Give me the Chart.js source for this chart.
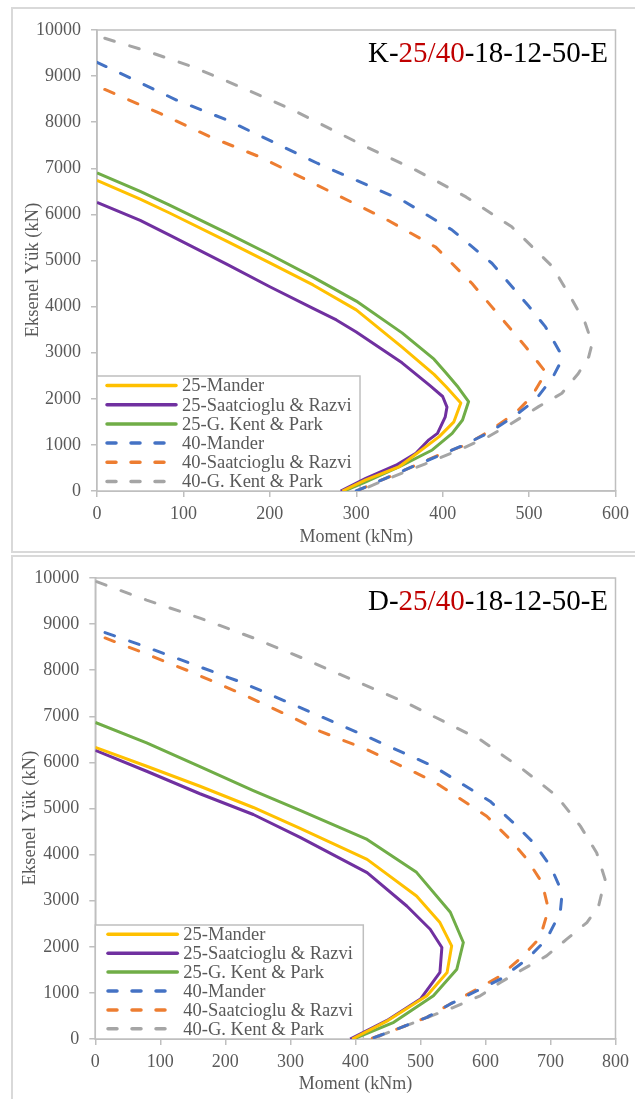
<!DOCTYPE html>
<html><head><meta charset="utf-8">
<script src="https://cdn.jsdelivr.net/npm/chart.js@4.4.0/dist/chart.umd.min.js"></script>
<style>
html,body{margin:0;padding:0;background:#fff;width:635px;height:1099px;overflow:hidden;position:relative}
.frame{position:absolute;border:2px solid #d9d9d9;box-sizing:border-box}
canvas{position:absolute}
</style></head><body>
<div class="frame" style="left:11px;top:7px;width:640px;height:546px"></div>
<div class="frame" style="left:11px;top:555px;width:640px;height:600px"></div>
<canvas id="c1" width="623" height="543" style="left:12px;top:8px;width:623px;height:543px"></canvas>
<canvas id="c2" width="623" height="543" style="left:12px;top:556px;width:623px;height:543px"></canvas>
<script>
// ---- series / labels ----
const seriesNames = ['25-Mander','25-Saatcioglu & Razvi','25-G. Kent & Park','40-Mander','40-Saatcioglu & Razvi','40-G. Kent & Park'];
const seriesColors = ['#FFC000','#7030A0','#70AD47','#4472C4','#ED7D31','#A5A5A5'];
const seriesDashed = [false,false,false,true,true,true];
const loadTicks = [0,1000,2000,3000,4000,5000,6000,7000,8000,9000,10000];
const momentTicksK = [0,100,200,300,400,500,600];
const momentTicksD = [0,100,200,300,400,500,600,700,800];
const titlePartsK = ['K-','25/40','-18-12-50-E'];
const titlePartsD = ['D-','25/40','-18-12-50-E'];
const xTitle = 'Moment (kNm)';
const yTitle = 'Eksenel Yük (kN)';

// ---- K chart data (Moment kNm, Load kN) ----
const K_M_25Mander = [0,50,84,150,200,250,300,353,390,404,421,413,396,350,311,284];
const K_P_25Mander = [6740,6330,6030,5420,4950,4470,3930,3120,2530,2260,1910,1500,1180,530,240,0];
const K_M_25Saat = [0,50,84,150,200,250,277,300,353,385,400,405,403,394,384,369,346,311,282];
const K_P_25Saat = [6260,5870,5550,4920,4430,3960,3710,3450,2780,2290,2050,1820,1610,1250,1110,820,560,275,0];
const K_M_25Kent = [0,50,84,150,200,250,300,353,390,404,418,430,423,411,388,350,311,286];
const K_P_25Kent = [6900,6500,6200,5600,5130,4640,4120,3430,2860,2560,2250,1940,1540,1250,890,530,200,0];
const K_M_40Mander = [0,34,92,150,207,255,300,353,411,457,500,519,536,538,527,507,482,453,420,400,365,334,300];
const K_P_40Mander = [9300,9000,8480,8050,7540,7110,6740,6310,5660,4940,4000,3560,3000,2850,2450,1970,1610,1260,960,800,527,275,0];
const K_M_40Saat = [9,73,130,188,250,334,392,434,473,496,517,521,514,503,484,453,427,400,365,334,300];
const K_P_40Saat = [8710,8190,7690,7250,6680,5900,5290,4500,3640,3130,2630,2550,2400,2050,1690,1290,1000,817,527,275,0];
const K_M_40Kent = [9,53,111,169,226,311,369,427,480,527,550,565,573,569,557,538,511,480,453,419,380,338,303];
const K_P_40Kent = [9820,9570,9200,8740,8270,7470,6960,6380,5730,4870,4140,3640,3200,2910,2550,2120,1830,1470,1180,890,590,275,0];

// ---- D chart data ----
const D_M_25Mander = [0,79,161,243,315,418,494,530,548,541,510,450,395];
const D_P_25Mander = [6327,5916,5483,5022,4567,3896,3102,2525,2020,1443,937,400,0];
const D_M_25Saat = [0,79,161,243,315,418,479,515,533,530,500,448,392];
const D_P_25Saat = [6262,5808,5320,4870,4372,3608,2885,2380,1985,1443,866,397,0];
const D_M_25Kent = [0,79,161,243,315,418,494,546,566,556,520,459,397];
const D_P_25Kent = [6868,6422,5909,5390,4957,4329,3615,2749,2093,1515,937,361,0];
const D_M_40Mander = [15,69,146,228,305,346,418,520,607,643,674,700,718,715,694,664,623,592,546,510,464,423];
const D_P_40Mander = [8816,8550,8150,7720,7250,7000,6560,5916,5158,4690,4257,3751,3175,2742,2165,1732,1299,1082,760,470,216,0];
const D_M_40Saat = [15,69,146,228,305,346,418,520,602,638,664,687,697,684,658,623,587,546,510,464,423];
const D_P_40Saat = [8700,8405,7970,7470,6963,6673,6277,5590,4833,4329,3896,3392,2814,2201,1803,1370,1082,760,470,216,0];
const D_M_40Kent = [2,79,161,243,325,366,479,571,592,658,710,746,771,784,774,756,725,694,658,623,592,551,500,438,430];
const D_P_40Kent = [9920,9520,9130,8700,8225,7970,7290,6640,6494,5844,5266,4617,4041,3463,2885,2526,2165,1803,1515,1227,937,686,410,72,0];

const FONT = '"Liberation Serif","Times New Roman",serif';
const GREY = '#595959';
const AXIS = '#bfbfbf';

function zip(ms, ps){ return ms.map((m,i)=>({x:m, y:ps[i]})); }
function makeSets(list){
  return list.map((pair,i)=>({
    label: seriesNames[i],
    data: zip(pair[0], pair[1]),
    showLine: true,
    borderColor: seriesColors[i],
    backgroundColor: seriesColors[i],
    borderWidth: 3,
    borderDash: seriesDashed[i] ? [10,16] : [],
    borderCapStyle: seriesDashed[i] ? 'round' : 'butt',
    borderJoinStyle: 'round',
    pointRadius: 0,
    tension: 0
  }));
}

const areaBorder = {
  id:'areaBorder',
  beforeDatasetsDraw(chart){
    const {ctx, chartArea:a} = chart;
    ctx.save(); ctx.strokeStyle = AXIS; ctx.lineWidth = 1.5;
    ctx.strokeRect(a.left, a.top, a.right-a.left, a.bottom-a.top);
    ctx.restore();
  }
};
const legendBox = {
  id:'legendBox',
  beforeDatasetsDraw(chart, args, o){
    const {ctx, chartArea:a} = chart;
    const x0 = a.left, y0 = a.bottom - o.h;
    ctx.save();
    ctx.fillStyle = '#fff'; ctx.fillRect(x0, y0, o.w, o.h);
    ctx.strokeStyle = AXIS; ctx.lineWidth = 1.5; ctx.strokeRect(x0, y0, o.w, o.h);
    ctx.font = '18.5px ' + FONT; ctx.textBaseline = 'middle'; ctx.textAlign = 'left';
    chart.data.datasets.forEach((ds,i)=>{
      const y = y0 + o.first + i*o.step;
      ctx.beginPath();
      ctx.strokeStyle = ds.borderColor; ctx.lineWidth = 3.5;
      ctx.setLineDash(ds.borderDash.length ? [9,15] : []);
      ctx.lineCap = 'round';
      ctx.moveTo(x0+o.lx0, y); ctx.lineTo(x0+o.lx1, y); ctx.stroke();
      ctx.setLineDash([]);
      ctx.fillStyle = GREY; ctx.fillText(ds.label, x0+o.tx, y+1);
    });
    ctx.restore();
  }
};
const cornerTitle = {
  id:'cornerTitle',
  afterDraw(chart, args, o){
    const ctx = chart.ctx;
    ctx.save();
    ctx.font = '29px ' + FONT; ctx.textBaseline = 'alphabetic'; ctx.textAlign = 'left';
    const widths = o.parts.map(p=>ctx.measureText(p).width);
    let x = o.right - widths.reduce((s,w)=>s+w,0);
    o.parts.forEach((p,i)=>{ ctx.fillStyle = i===1 ? '#C00000' : '#000'; ctx.fillText(p, x, o.baseline); x += widths[i]; });
    // rotated y-axis title
    ctx.translate(o.yTitleX, o.yTitleY);
    ctx.rotate(-Math.PI/2);
    ctx.font = '18.5px ' + FONT; ctx.fillStyle = GREY; ctx.textAlign = 'center'; ctx.textBaseline = 'middle';
    ctx.fillText(yTitle, 0, 0);
    ctx.restore();
  }
};

function buildChart(id, sets, mTicks, yAxisW, legendOpt, titleParts, yTx, xTitlePad){
  return new Chart(document.getElementById(id), {
    type:'scatter',
    data:{ datasets: sets },
    plugins:[areaBorder, legendBox, cornerTitle],
    options:{
      responsive:false, animation:false, devicePixelRatio:1,
      layout:{ padding:{ left:0, top:22, right:18, bottom:0 } },
      plugins:{
        legend:{display:false}, tooltip:{enabled:false},
        legendBox: legendOpt,
        cornerTitle:{ parts: titleParts, right:596, baseline:54, yTitleX:yTx, yTitleY:262 }
      },
      scales:{
        x:{
          type:'linear', position:'bottom',
          min: mTicks[0], max: mTicks[mTicks.length-1],
          ticks:{ stepSize: mTicks[1]-mTicks[0], color:GREY, font:{family:FONT,size:18}, padding:6, maxRotation:0, autoSkip:false,
                  callback: v => String(v) },
          grid:{ drawOnChartArea:false, drawTicks:true, tickLength:6, color:AXIS, lineWidth:1.5 },
          border:{ display:true, color:AXIS, width:1.5 },
          title:{ display:true, text:xTitle, color:GREY, font:{family:FONT,size:18}, padding:{top:0,bottom:xTitlePad} },
          afterFit(s){ s.height = 60; }
        },
        y:{
          type:'linear', position:'left',
          min: loadTicks[0], max: loadTicks[loadTicks.length-1],
          ticks:{ stepSize: loadTicks[1]-loadTicks[0], color:GREY, font:{family:FONT,size:18}, padding:10, autoSkip:false,
                  callback: v => String(v) },
          grid:{ drawOnChartArea:false, drawTicks:true, tickLength:6, color:AXIS, lineWidth:1.5 },
          border:{ display:true, color:AXIS, width:1.5 },
          title:{ display:false },
          afterFit(s){ s.width = yAxisW; }
        }
      }
    }
  });
}

buildChart('c1', makeSets([
  [K_M_25Mander,K_P_25Mander],[K_M_25Saat,K_P_25Saat],[K_M_25Kent,K_P_25Kent],
  [K_M_40Mander,K_P_40Mander],[K_M_40Saat,K_P_40Saat],[K_M_40Kent,K_P_40Kent]
]), momentTicksK, 85, {w:263,h:115,first:9.5,step:19.2,lx0:10,lx1:79,tx:85}, titlePartsK, 21, 3);

buildChart('c2', makeSets([
  [D_M_25Mander,D_P_25Mander],[D_M_25Saat,D_P_25Saat],[D_M_25Kent,D_P_25Kent],
  [D_M_40Mander,D_P_40Mander],[D_M_40Saat,D_P_40Saat],[D_M_40Kent,D_P_40Kent]
]), momentTicksD, 83.3, {w:268,h:114,first:9.3,step:18.9,lx0:12.7,lx1:82,tx:88}, titlePartsD, 18, 4);
</script>
</body></html>
